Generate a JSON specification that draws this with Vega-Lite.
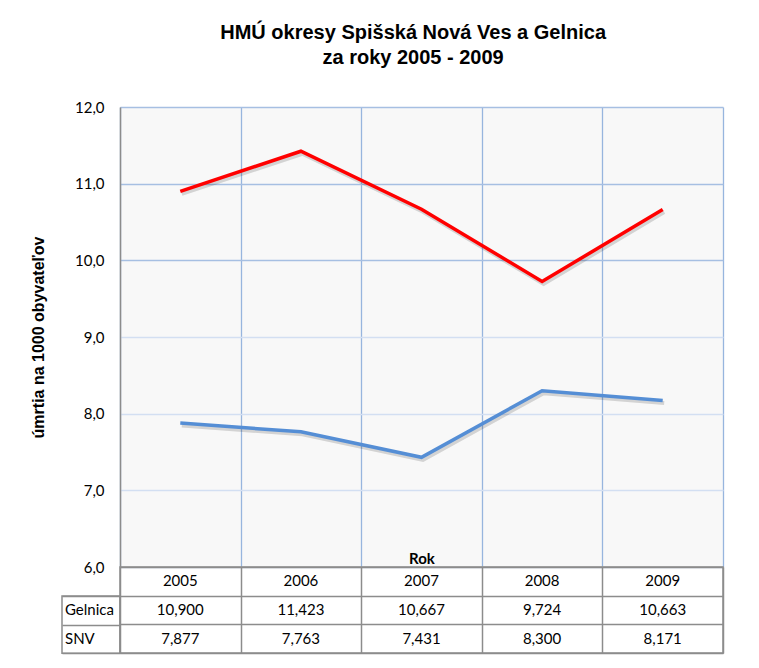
{
  "$schema": "https://vega.github.io/schema/vega-lite/v6.json",
  "background": "white",
  "padding": {"left": 30, "top": 23, "right": 30, "bottom": 10},
  "title": {
    "text": ["HMÚ okresy Spišská Nová Ves a Gelnica", "za roky 2005 - 2009"],
    "anchor": "middle",
    "font": "Liberation Sans",
    "fontSize": 20,
    "fontWeight": "bold",
    "lineHeight": 25,
    "color": "#000",
    "dx": 36,
    "offset": 32
  },
  "data": {
    "values": [
      {"year": "2005", "series": "Gelnica", "value": 10.900},
      {"year": "2006", "series": "Gelnica", "value": 11.423},
      {"year": "2007", "series": "Gelnica", "value": 10.667},
      {"year": "2008", "series": "Gelnica", "value": 9.724},
      {"year": "2009", "series": "Gelnica", "value": 10.663},
      {"year": "2005", "series": "SNV", "value": 7.877},
      {"year": "2006", "series": "SNV", "value": 7.763},
      {"year": "2007", "series": "SNV", "value": 7.431},
      {"year": "2008", "series": "SNV", "value": 8.300},
      {"year": "2009", "series": "SNV", "value": 8.171}
    ]
  },
  "columns": 2,
  "spacing": 0,
  "bounds": "flush",
  "concat": [
    {
      "width": 58,
      "height": 460,
      "data": {"values": []},
      "view": {"stroke": null},
      "mark": {"type": "point", "opacity": 0}
    },
    {
      "width": 603,
      "height": 460,
      "view": {"fill": "#f8f8f8", "stroke": null},
      "encoding": {
        "x": {
          "field": "year",
          "type": "ordinal",
          "bandPosition": 0.5,
          "scale": {"type": "band", "paddingInner": 0, "paddingOuter": 0},
          "axis": {
            "grid": true,
            "tickBand": "extent",
            "gridColor": "#97b5de",
            "gridWidth": 1.3,
            "labels": false,
            "ticks": false,
            "domain": false,
            "title": "Rok",
            "titleFont": "Lato",
            "titleFontSize": 15,
            "titleFontWeight": "bold",
            "titleColor": "#000",
            "titleBaseline": "alphabetic",
            "titleY": -4,
            "titlePadding": 0
          }
        },
        "y": {
          "field": "value",
          "type": "quantitative",
          "scale": {"domain": [6, 12], "nice": false, "zero": false},
          "axis": {
            "values": [6, 7, 8, 9, 10, 11, 12],
            "format": ".1f",
            "grid": true,
            "gridColor": {"condition": {"test": "datum.value >= 10", "value": "#a6bfe2"}, "value": "#d3dff2"},
            "gridWidth": 1.3,
            "ticks": false,
            "domainColor": "#8c8c8c",
            "domainWidth": 1.5,
            "labelPadding": 16,
            "labelFontSize": 15,
            "title": "úmrtia na 1000 obyvateľov",
            "titleFont": "Liberation Sans",
            "titleFontSize": 16,
            "titleFontWeight": "bold",
            "titleColor": "#000",
            "titlePadding": 28
          }
        }
      },
      "layer": [
        {
          "mark": {"type": "line", "strokeWidth": 4, "color": "#000", "opacity": 0.15, "xOffset": 1.5, "yOffset": 2.5},
          "encoding": {"detail": {"field": "series"}}
        },
        {
          "mark": {"type": "line", "strokeWidth": 3.5},
          "encoding": {
            "color": {
              "field": "series",
              "type": "nominal",
              "scale": {"domain": ["Gelnica", "SNV"], "range": ["#ff0000", "#558ed5"]},
              "legend": null
            }
          }
        }
      ]
    },
    {
      "vconcat": [
        {
          "width": 58,
          "height": 28.67,
          "data": {"values": []},
          "view": {"stroke": null},
          "mark": {"type": "point", "opacity": 0}
        },
        {
          "width": 58,
          "height": 57.33,
          "view": {"stroke": "#8c8c8c", "strokeWidth": 1.5},
          "transform": [{"filter": "datum.year === '2005'"}],
          "mark": {"type": "text", "align": "left", "dx": -26},
          "encoding": {
            "y": {
              "field": "series",
              "type": "nominal",
              "bandPosition": 0.5,
              "scale": {"type": "band", "domain": ["Gelnica", "SNV"], "paddingInner": 0, "paddingOuter": 0},
              "axis": {"grid": true, "tickBand": "extent", "gridColor": "#8c8c8c", "gridWidth": 1.5, "labels": false, "ticks": false, "domain": false, "title": null}
            },
            "text": {"field": "series"}
          }
        }
      ],
      "spacing": 0,
      "bounds": "flush"
    },
    {
      "width": 603,
      "height": 86,
      "view": {"stroke": "#8c8c8c", "strokeWidth": 1.5},
      "layer": [
        {
          "transform": [{"filter": "datum.series === 'Gelnica'"}],
          "mark": {"type": "text"},
          "encoding": {
            "x": {
              "field": "year",
              "type": "ordinal",
              "bandPosition": 0.5,
              "scale": {"type": "band", "paddingInner": 0, "paddingOuter": 0},
              "axis": {"grid": true, "tickBand": "extent", "gridColor": "#8c8c8c", "gridWidth": 1.5, "labels": false, "ticks": false, "domain": false, "title": null}
            },
            "y": {
              "datum": "hdr",
              "type": "nominal",
              "scale": {"type": "band", "domain": ["hdr", "Gelnica", "SNV"], "paddingInner": 0, "paddingOuter": 0},
              "axis": {"grid": true, "tickBand": "extent", "gridColor": "#8c8c8c", "gridWidth": 1.5, "labels": false, "ticks": false, "domain": false, "title": null}
            },
            "text": {"field": "year"}
          }
        },
        {
          "mark": {"type": "text"},
          "encoding": {
            "x": {"field": "year", "type": "ordinal", "bandPosition": 0.5},
            "y": {"field": "series", "type": "nominal", "bandPosition": 0.5},
            "text": {"field": "value", "type": "quantitative", "format": ".3f"}
          }
        }
      ]
    }
  ],
  "config": {
    "locale": {"number": {"decimal": ",", "thousands": " ", "grouping": [3], "currency": ["", ""]}},
    "font": "Lato",
    "axis": {"labelFont": "Lato", "labelFontSize": 15, "labelColor": "#000"},
    "text": {"font": "Lato", "fontSize": 15, "color": "#000"}
  }
}
